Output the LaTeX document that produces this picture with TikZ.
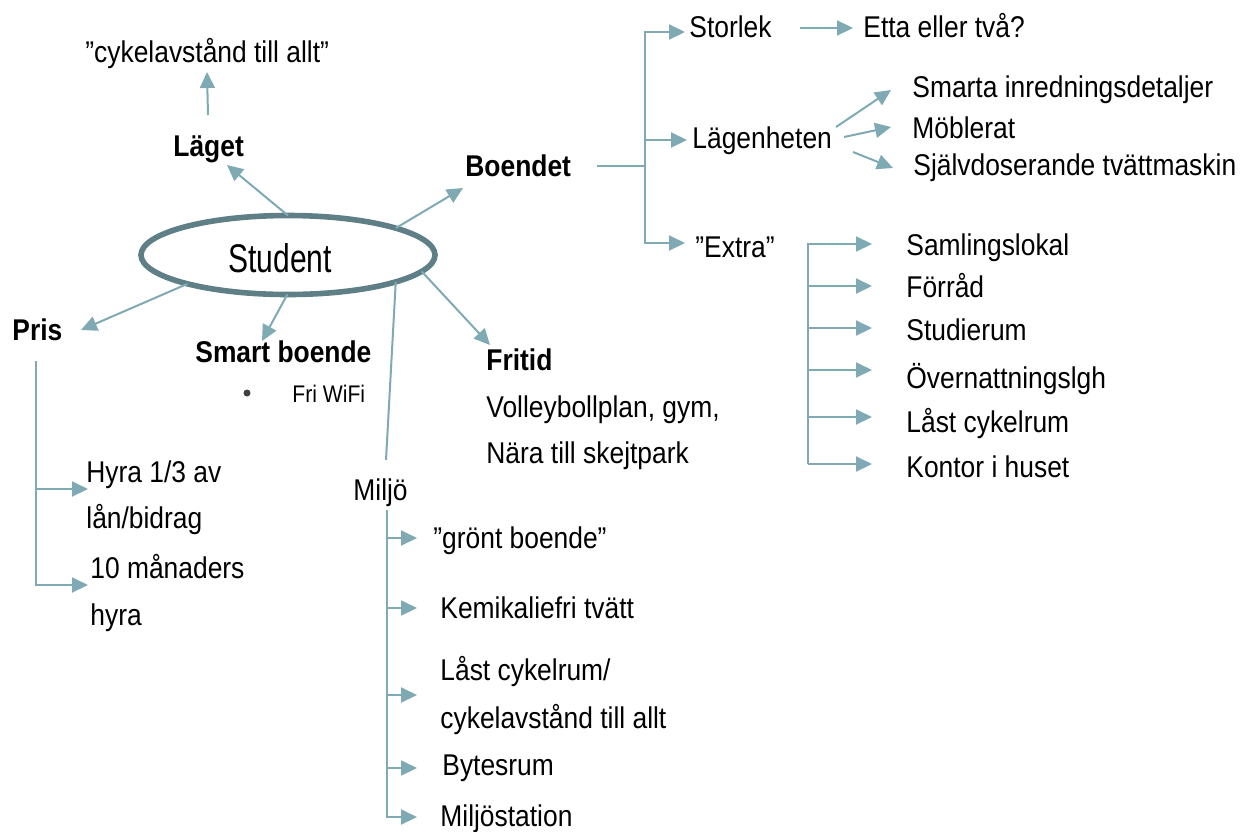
\documentclass[tikz,border=0pt]{standalone}
\usepackage{fontspec}
\setmainfont{Liberation Sans}[FakeStretch=0.88]
\newfontfamily\studfont{Liberation Sans}[FakeStretch=0.75]
\usetikzlibrary{arrows.meta,shapes.geometric}
\definecolor{arr}{HTML}{7FAAB4}
\definecolor{ell}{HTML}{5F7F87}
\definecolor{dot}{HTML}{404040}
\begin{document}
\begin{tikzpicture}[x=0.5pt,y=-0.5pt,
  lbl/.style={anchor=base west,inner sep=0pt,font=\fontsize{15}{18}\selectfont},
  blbl/.style={anchor=base west,inner sep=0pt,font=\fontsize{15}{18}\selectfont\bfseries},
  con/.style={draw=arr,line width=1pt},
  arrow/.style={con,-{Triangle[length=8pt,width=7.5pt]}},
]
\useasboundingbox (0,0) rectangle (1246,831);

% centre
\node[draw=ell,line width=2.8pt,ellipse,minimum width=147pt,minimum height=39.5pt,inner sep=0pt,outer sep=0pt] (stud) at (288,255) {};
\node[anchor=base,inner sep=0pt,font=\studfont\fontsize{20}{24}\selectfont] (studtxt) at (280,272) {Student};

% main labels
\node[lbl] (cyk) at (85,62) {”cykelavstånd till allt”};
\node[blbl] (laget) at (173,156) {Läget};
\node[blbl] (boendet) at (465,176) {Boendet};
\node[blbl] (pris) at (12,340) {Pris};
\node[blbl] (smart) at (195,362) {Smart boende};
\node[circle,fill=dot,inner sep=0pt,minimum size=3.5pt] (bul) at (247,393) {};
\node[anchor=base west,inner sep=0pt,font=\fontsize{12}{14}\selectfont] (wifi) at (292,402) {Fri WiFi};
\node[blbl] (fritid) at (486,370) {Fritid};
\node[lbl] (volley) at (486,417) {Volleybollplan, gym,};
\node[lbl] (nara) at (486,463) {Nära till skejtpark};
\node[lbl] (miljo) at (353,500) {Miljö};

% Pris items
\node[lbl] (hyra1) at (86,482) {Hyra 1/3 av};
\node[lbl] (hyra1b) at (86,528) {lån/bidrag};
\node[lbl] (hyra2) at (90,578) {10 månaders};
\node[lbl] (hyra2b) at (90,625) {hyra};

% Miljö items
\node[lbl] (gront) at (433,548) {”grönt boende”};
\node[lbl] (kemi) at (440,618) {Kemikaliefri tvätt};
\node[lbl] (last1) at (440,680) {Låst cykelrum/};
\node[lbl] (last1b) at (440,728) {cykelavstånd till allt};
\node[lbl] (bytes) at (442,775) {Bytesrum};
\node[lbl] (mstat) at (440,826) {Miljöstation};

% Boendet items
\node[lbl] (storlek) at (689,37) {Storlek};
\node[lbl] (etta) at (863,37) {Etta eller två?};
\node[lbl] (lgh) at (692,148) {Lägenheten};
\node[lbl] (extra) at (695,257) {”Extra”};
\node[lbl] (smarta) at (912,97) {Smarta inredningsdetaljer};
\node[lbl] (mobl) at (912,138) {Möblerat};
\node[lbl] (sjalv) at (913,175) {Självdoserande tvättmaskin};

% Extra items
\node[lbl] (samling) at (906,255) {Samlingslokal};
\node[lbl] (forrad) at (906,297) {Förråd};
\node[lbl] (studie) at (906,340) {Studierum};
\node[lbl] (overn) at (906,388) {Övernattningslgh};
\node[lbl] (lastc) at (906,432) {Låst cykelrum};
\node[lbl] (kontor) at (906,477) {Kontor i huset};

% coordinates
\coordinate (lagetT) at (227,165);
\coordinate (lagetU) at (208,115);
\coordinate (cykT) at (207,72);
\coordinate (boT) at (463,188);
\coordinate (friT) at (490,345);
\coordinate (milE) at (386,460);
\coordinate (smT) at (262,341);
\coordinate (prT) at (81,330);

\coordinate (pr0) at (36,361);
\coordinate (pr1) at (36,489);
\coordinate (pr1e) at (88,489);
\coordinate (pr2e) at (88,585);

\coordinate (mi0) at (387,510);
\coordinate (mi1) at (387,538);
\coordinate (mi2) at (387,608);
\coordinate (mi3) at (387,695);
\coordinate (mi4) at (387,768);
\coordinate (mi1e) at (417,538);
\coordinate (mi2e) at (417,608);
\coordinate (mi3e) at (417,695);
\coordinate (mi4e) at (417,768);
\coordinate (mi5e) at (417,817);

\coordinate (bo0) at (597,166);
\coordinate (bo1) at (645,166);
\coordinate (bo2) at (645,140);
\coordinate (stT) at (685,32);
\coordinate (lgT) at (687,140);
\coordinate (exT) at (685,243);

\coordinate (stS) at (800,28);
\coordinate (etT) at (853,28);
\coordinate (lg1) at (836,127);
\coordinate (lg2) at (844,137);
\coordinate (lg3) at (853,152);
\coordinate (smaT) at (891,90);
\coordinate (moT) at (891,127);
\coordinate (sjT) at (893,168);

\coordinate (ex6) at (808,464);
\coordinate (ex2) at (808,286);
\coordinate (ex3) at (808,328);
\coordinate (ex4) at (808,370);
\coordinate (ex5) at (808,417);
\coordinate (ex1e) at (872,244);
\coordinate (ex2e) at (872,286);
\coordinate (ex3e) at (872,328);
\coordinate (ex4e) at (872,370);
\coordinate (ex5e) at (872,417);
\coordinate (ex6e) at (872,464);

% connectors from centre
\draw[arrow] (stud.90) -- (lagetT);
\draw[arrow] (lagetU) -- (cykT);
\draw[arrow] (stud.14) -- (boT);
\draw[arrow] (stud.-7) -- (friT);
\draw[con] (stud.-14) -- (milE);
\draw[arrow] (stud.-91) -- (smT);
\draw[arrow] (stud.196) -- (prT);

% Pris bracket
\draw[arrow] (pr0) |- (pr2e);
\draw[arrow] (pr1) -- (pr1e);

% Miljö bracket
\draw[arrow] (mi0) |- (mi5e);
\draw[arrow] (mi1) -- (mi1e);
\draw[arrow] (mi2) -- (mi2e);
\draw[arrow] (mi3) -- (mi3e);
\draw[arrow] (mi4) -- (mi4e);

% Boendet bracket
\draw[con] (bo0) -- (bo1);
\draw[arrow] (bo1) |- (stT);
\draw[arrow] (bo1) |- (exT);
\draw[arrow] (bo2) -- (lgT);

\draw[arrow] (stS) -- (etT);
\draw[arrow] (lg1) -- (smaT);
\draw[arrow] (lg2) -- (moT);
\draw[arrow] (lg3) -- (sjT);

% Extra bracket
\draw[arrow] (ex6) |- (ex1e);
\draw[arrow] (ex2) -- (ex2e);
\draw[arrow] (ex3) -- (ex3e);
\draw[arrow] (ex4) -- (ex4e);
\draw[arrow] (ex5) -- (ex5e);
\draw[arrow] (ex6) -- (ex6e);
\end{tikzpicture}
\end{document}
